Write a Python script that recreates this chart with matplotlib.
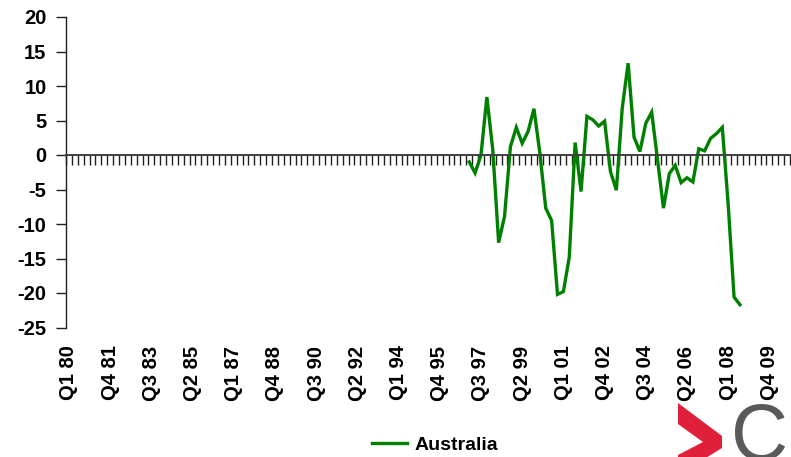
import numpy as np
import matplotlib
matplotlib.use("Agg")
import matplotlib.pyplot as plt
from matplotlib.patches import Polygon

plt.rcParams["font.family"] = ["Liberation Sans", "DejaVu Sans"]
plt.rcParams["font.weight"] = "bold"

# quarterly category axis, Q1 80 .. Q3 10
quarters = [f"Q{q} {y % 100:02d}" for y in range(1980, 2011) for q in range(1, 5)][:123]
label_every = 7

# Australia, quarterly % change (annualised), Q1 97 .. Q3 08
series_start = "Q1 97"
australia = [
    -1.0, -2.6, 0.0, 8.4, 0.8, -12.7, -8.9, 1.2, 4.0, 1.7, 3.4, 6.7,
    0.3, -7.7, -9.5, -20.2, -19.8, -14.8, 1.8, -5.3, 5.6, 5.1, 4.2, 4.9,
    -2.4, -5.1, 6.8, 13.3, 2.6, 0.5, 4.6, 6.2, -0.7, -7.7, -2.7, -1.5,
    -4.0, -3.3, -3.9, 0.9, 0.6, 2.4, 3.1, 4.0, -7.2, -20.6, -21.7,
]
y_ticks = [-25, -20, -15, -10, -5, 0, 5, 10, 15, 20]

W, H = 791, 457
fig = plt.figure(figsize=(W / 100, H / 100), dpi=100)
ax = fig.add_axes([66 / W, 1 - 327.5 / H, 724 / W, (327.5 - 17) / H])

start = quarters.index(series_start)
x = np.arange(start, start + len(australia))
line, = ax.plot(x, australia, color="#008000", lw=2.4, solid_joinstyle="miter",
                label="Australia", clip_on=False)

ax.set_xlim(-0.5, len(quarters) - 0.5)
ax.set_ylim(-25, 20)

for s in ("top", "right"):
    ax.spines[s].set_visible(False)
ax.spines["left"].set_color("#202020")
ax.spines["left"].set_linewidth(1.0)
ax.spines["bottom"].set_position(("data", 0))
ax.spines["bottom"].set_color("#404040")
ax.spines["bottom"].set_linewidth(1.4)

ax.set_yticks(y_ticks)
ax.set_yticklabels([str(v) for v in y_ticks])
ax.tick_params(axis="y", direction="out", length=7, width=1.0, color="#202020",
               pad=7, labelsize=14.5)

# tick marks between categories on the zero line, labels down at the bottom
ax.set_xticks([])
ax.set_xticks(np.arange(len(quarters) + 1) - 0.5, minor=True)
ax.tick_params(axis="x", which="minor", direction="out", length=7, width=1.0,
               color="#202020")

sec = ax.secondary_xaxis("bottom")
sec.spines["bottom"].set_visible(False)
pos = np.arange(0, len(quarters), label_every)
sec.set_xticks(pos)
sec.set_xticklabels([quarters[i] for i in pos], rotation=90, fontsize=14.5,
                    fontweight="bold")
sec.tick_params(axis="x", length=0, pad=13)

fig.legend(handles=[line], loc="center", bbox_to_anchor=(435 / W, 1 - 445 / H),
           frameon=False, fontsize=14, handlelength=1.8, handletextpad=0.4)

# logo in the lower right corner
chevron = [(678, 403), (722, 436), (722, 448), (678, 475), (678, 455),
           (703, 442), (678, 424)]
fig.patches.append(Polygon([(px / W, 1 - py / H) for px, py in chevron],
                           closed=True, transform=fig.transFigure,
                           facecolor="#e0203a", edgecolor="none"))
fig.text(731 / W, 1 - 460 / H, "C", color="#5a5a5a", fontsize=57,
         fontweight="normal", ha="left", va="baseline")

fig.savefig("out.png", dpi=100)
